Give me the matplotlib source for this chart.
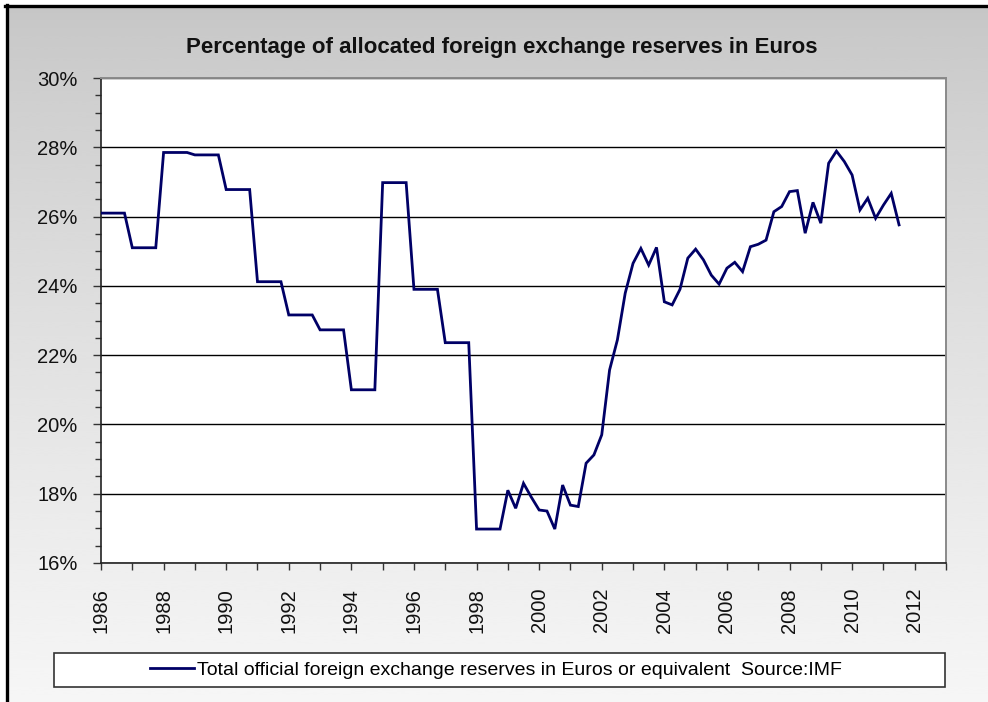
"""Share of allocated FX reserves held in euros (IMF COFER style Excel chart)."""

import matplotlib

matplotlib.use("Agg")
import matplotlib.pyplot as plt  # noqa: E402
import numpy as np  # noqa: E402
from matplotlib.lines import Line2D  # noqa: E402
from matplotlib.patches import Rectangle  # noqa: E402
from matplotlib.ticker import FuncFormatter, MultipleLocator  # noqa: E402

plt.rcParams["font.family"] = ["Liberation Sans", "DejaVu Sans"]

# quarterly observations, 1986Q1 .. 2011Q3
first_year = 1986
euro_share = [
    26.10, 26.10, 26.10, 26.10,  # 1986
    25.10, 25.10, 25.10, 25.10,  # 1987
    27.85, 27.85, 27.85, 27.85,  # 1988
    27.78, 27.78, 27.78, 27.78,  # 1989
    26.78, 26.78, 26.78, 26.78,  # 1990
    24.12, 24.12, 24.12, 24.12,  # 1991
    23.16, 23.16, 23.16, 23.16,  # 1992
    22.73, 22.73, 22.73, 22.73,  # 1993
    21.00, 21.00, 21.00, 21.00,  # 1994
    26.98, 26.98, 26.98, 26.98,  # 1995
    23.90, 23.90, 23.90, 23.90,  # 1996
    22.36, 22.36, 22.36, 22.36,  # 1997
    16.98, 16.98, 16.98, 16.98,  # 1998
    18.10, 17.58, 18.30, 17.90,  # 1999
    17.53, 17.50, 16.98, 18.25,  # 2000
    17.67, 17.63, 18.88, 19.12,  # 2001
    19.70, 21.57, 22.44, 23.79,  # 2002
    24.65, 25.08, 24.60, 25.11,  # 2003
    23.54, 23.45, 23.90, 24.80,  # 2004
    25.06, 24.75, 24.31, 24.05,  # 2005
    24.51, 24.68, 24.41, 25.13,  # 2006
    25.20, 25.32, 26.14, 26.29,  # 2007
    26.72, 26.75, 25.52, 26.41,  # 2008
    25.81, 27.54, 27.89, 27.59,  # 2009
    27.20, 26.19, 26.53, 25.95,  # 2010
    26.33, 26.67, 25.76,         # 2011
]
quarter_pos = first_year + np.arange(len(euro_share)) / 4.0

year_labels = list(range(1986, 2013, 2))

TITLE = "Percentage of allocated foreign exchange reserves in Euros"
SERIES = "Total official foreign exchange reserves in Euros or equivalent  Source:IMF"
LINE_COLOR = "#000066"

W, H = 988, 702
fig = plt.figure(figsize=(W / 100, H / 100), dpi=100)
fig.patch.set_facecolor("white")

# grey-to-light gradient chart area, like the Excel fill
bg = fig.add_axes([6 / W, 0, 1 - 6 / W, 1 - 5 / H], zorder=-10)
grad = np.linspace(0, 1, 256)[:, None] ** 0.8
bg.imshow(0.775 + 0.19 * grad, cmap="gray", vmin=0, vmax=1,
          aspect="auto", extent=[0, 1, 0, 1], interpolation="bicubic")
bg.set_axis_off()

# black frame on the left and top edges
fig.add_artist(Line2D([6.5 / W, 6.5 / W], [0.0, 1 - 5 / H], transform=fig.transFigure,
                      color="black", lw=2.4))
fig.add_artist(Line2D([5 / W, 1.0], [1 - 5.5 / H, 1 - 5.5 / H], transform=fig.transFigure,
                      color="black", lw=2.4))

left, right, top, bottom = 101, 946, 78, 563
ax = fig.add_axes([left / W, 1 - bottom / H, (right - left) / W, (bottom - top) / H])
ax.set_facecolor("white")

ax.plot(quarter_pos, euro_share, color=LINE_COLOR, lw=2.0, solid_joinstyle="miter",
        label=SERIES, zorder=3)

ax.set_xlim(1986, 2013)
ax.set_ylim(16, 30)

ax.yaxis.set_major_locator(MultipleLocator(2))
ax.yaxis.set_minor_locator(MultipleLocator(0.5))
ax.yaxis.set_major_formatter(FuncFormatter(lambda v, _: f"{v:.0f}%"))
ax.set_xticks(year_labels)
ax.set_xticklabels([str(y) for y in year_labels], rotation=90)
ax.xaxis.set_minor_locator(MultipleLocator(1))

ax.tick_params(axis="y", which="major", direction="out", length=6, width=1,
               color="#333333", labelsize=14.5, pad=11, labelcolor="#111111")
ax.tick_params(axis="y", which="minor", direction="out", length=4, width=1, color="#333333")
ax.tick_params(axis="x", which="both", direction="out", length=5, width=1,
               color="#333333", labelsize=14.5, pad=13, labelcolor="#111111")

ax.grid(axis="y", which="major", color="black", lw=1.0, zorder=1)
ax.set_axisbelow(True)

for side in ("top", "right"):
    ax.spines[side].set_color("#8a8a8a")
    ax.spines[side].set_linewidth(1.4)
for side in ("left", "bottom"):
    ax.spines[side].set_color("#222222")
    ax.spines[side].set_linewidth(1.2)

fig.text(502 / W, 1 - 48 / H, TITLE, ha="center", va="center",
         fontsize=16, fontweight="bold", color="#111111")

# legend box across the bottom
lx0, lx1, ly0, ly1 = 54, 945, 653, 687
fig.add_artist(Rectangle((lx0 / W, 1 - ly1 / H), (lx1 - lx0) / W, (ly1 - ly0) / H,
                         transform=fig.transFigure, facecolor="white",
                         edgecolor="#333333", lw=1.2, zorder=2))
fig.legend(loc="center", bbox_to_anchor=(496 / W, 1 - (ly0 + ly1) / 2 / H),
           frameon=False, fontsize=14, handlelength=2.3, handletextpad=0.15,
           borderpad=0, borderaxespad=0)

fig.savefig("out.png", dpi=100)
